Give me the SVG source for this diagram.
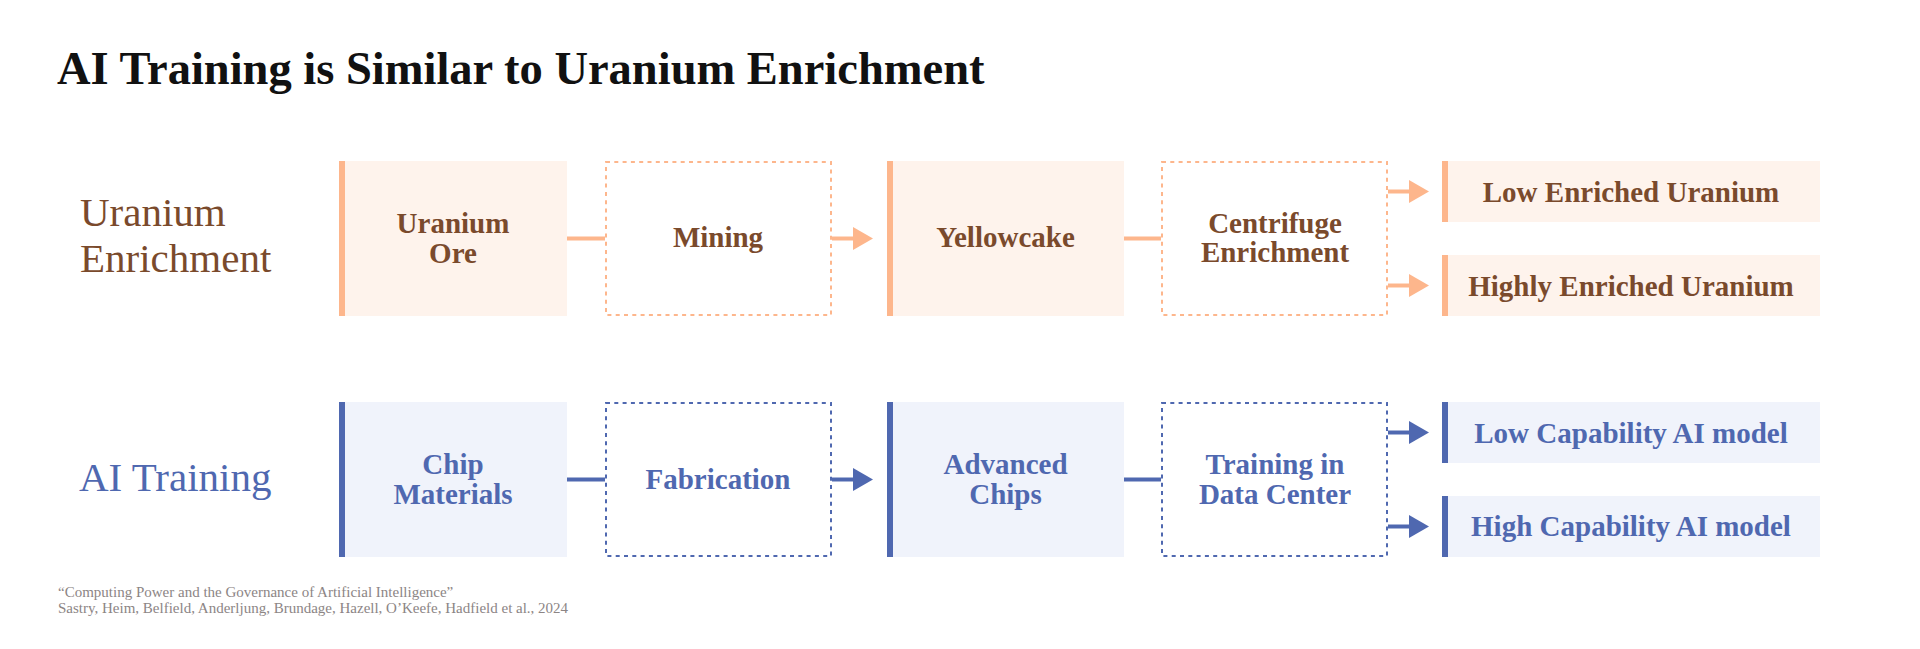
<svg xmlns="http://www.w3.org/2000/svg" width="1920" height="649" viewBox="0 0 1920 649">
<style>
text{font-family:"Liberation Serif","Times New Roman",serif}
.title{font-size:46.5px;font-weight:bold;fill:#111}
.rowlab{font-size:41px}
.u{fill:#7A4A2C}
.a{fill:#4F68B0}
.bt{font-size:29px;font-weight:bold;text-anchor:middle}
.ufill{fill:#FEF3EC}
.afill{fill:#F0F3FB}
.ubar{fill:#FDB68C}
.abar{fill:#4F68B0}
.udash{fill:none;stroke:#FDB68C;stroke-width:2;stroke-dasharray:4 4.3}
.adash{fill:none;stroke:#4F68B0;stroke-width:2;stroke-dasharray:4 4.3}
.ucon{stroke:#FDB68C;stroke-width:4;fill:none}
.acon{stroke:#4F68B0;stroke-width:4;fill:none}
.cite{font-size:15px;fill:#8C8585}
</style>
<defs>
<marker id="ua" viewBox="0 0 20 23" refX="0" refY="11.5" markerWidth="20" markerHeight="23" markerUnits="userSpaceOnUse" orient="auto"><path d="M0,0 L20,11.5 L0,23 z" fill="#FDB68C"/></marker>
<marker id="aa" viewBox="0 0 20 23" refX="0" refY="11.5" markerWidth="20" markerHeight="23" markerUnits="userSpaceOnUse" orient="auto"><path d="M0,0 L20,11.5 L0,23 z" fill="#4F68B0"/></marker>
</defs>
<rect width="1920" height="649" fill="#fff"/>
<text class="title" x="57" y="84">AI Training is Similar to Uranium Enrichment</text>

<g id="label-uranium"><text class="rowlab u" x="80" y="226">Uranium</text><text class="rowlab u" x="80" y="272">Enrichment</text></g>
<g id="label-ai"><text class="rowlab a" x="79" y="491">AI Training</text></g>

<g id="connectors">
<line class="ucon" x1="567" y1="238.5" x2="605" y2="238.5"/>
<line class="ucon" x1="832" y1="238.5" x2="853" y2="238.5" marker-end="url(#ua)"/>
<line class="ucon" x1="1124" y1="238.5" x2="1161" y2="238.5"/>
<line class="ucon" x1="1388" y1="191.5" x2="1409" y2="191.5" marker-end="url(#ua)"/>
<line class="ucon" x1="1388" y1="285.5" x2="1409" y2="285.5" marker-end="url(#ua)"/>
<line class="acon" x1="567" y1="479.5" x2="605" y2="479.5"/>
<line class="acon" x1="832" y1="479.5" x2="853" y2="479.5" marker-end="url(#aa)"/>
<line class="acon" x1="1124" y1="479.5" x2="1161" y2="479.5"/>
<line class="acon" x1="1388" y1="432.5" x2="1409" y2="432.5" marker-end="url(#aa)"/>
<line class="acon" x1="1388" y1="526.5" x2="1409" y2="526.5" marker-end="url(#aa)"/>
</g>

<g id="uranium-ore"><rect class="ufill" x="339" y="161" width="228" height="155"/><rect class="ubar" x="339" y="161" width="6" height="155"/><text class="bt u" x="453" y="233">Uranium</text><text class="bt u" x="453" y="263">Ore</text></g>
<g id="mining"><rect class="udash" x="606" y="162" width="225" height="153"/><text class="bt u" x="718" y="247">Mining</text></g>
<g id="yellowcake"><rect class="ufill" x="887" y="161" width="237" height="155"/><rect class="ubar" x="887" y="161" width="6" height="155"/><text class="bt u" x="1005.5" y="247">Yellowcake</text></g>
<g id="centrifuge"><rect class="udash" x="1162" y="162" width="225" height="153"/><text class="bt u" x="1275" y="233">Centrifuge</text><text class="bt u" x="1275" y="262">Enrichment</text></g>
<g id="leu"><rect class="ufill" x="1442" y="161" width="378" height="61"/><rect class="ubar" x="1442" y="161" width="6" height="61"/><text class="bt u" x="1631" y="201.5">Low Enriched Uranium</text></g>
<g id="heu"><rect class="ufill" x="1442" y="255" width="378" height="61"/><rect class="ubar" x="1442" y="255" width="6" height="61"/><text class="bt u" x="1631" y="295.5">Highly Enriched Uranium</text></g>

<g id="chip-materials"><rect class="afill" x="339" y="402" width="228" height="155"/><rect class="abar" x="339" y="402" width="6" height="155"/><text class="bt a" x="453" y="474">Chip</text><text class="bt a" x="453" y="504">Materials</text></g>
<g id="fabrication"><rect class="adash" x="606" y="403" width="225" height="153"/><text class="bt a" x="718" y="489">Fabrication</text></g>
<g id="advanced-chips"><rect class="afill" x="887" y="402" width="237" height="155"/><rect class="abar" x="887" y="402" width="6" height="155"/><text class="bt a" x="1005.5" y="474">Advanced</text><text class="bt a" x="1005.5" y="504">Chips</text></g>
<g id="training-dc"><rect class="adash" x="1162" y="403" width="225" height="153"/><text class="bt a" x="1275" y="474">Training in</text><text class="bt a" x="1275" y="504">Data Center</text></g>
<g id="low-cap"><rect class="afill" x="1442" y="402" width="378" height="61"/><rect class="abar" x="1442" y="402" width="6" height="61"/><text class="bt a" x="1631" y="442.5">Low Capability AI model</text></g>
<g id="high-cap"><rect class="afill" x="1442" y="496" width="378" height="61"/><rect class="abar" x="1442" y="496" width="6" height="61"/><text class="bt a" x="1631" y="536">High Capability AI model</text></g>

<g id="citation"><text class="cite" x="58" y="597">“Computing Power and the Governance of Artificial Intelligence”</text><text class="cite" x="58" y="613">Sastry, Heim, Belfield, Anderljung, Brundage, Hazell, O’Keefe, Hadfield et al., 2024</text></g>
</svg>
